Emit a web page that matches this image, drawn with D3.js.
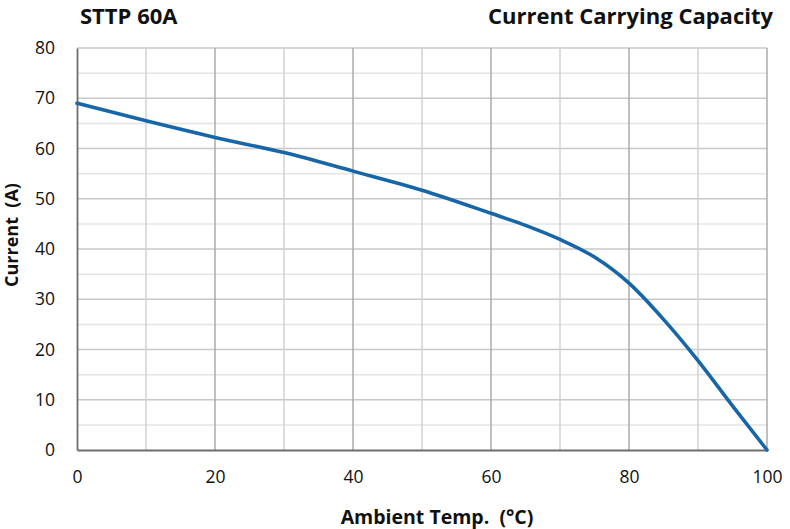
<!DOCTYPE html>
<html>
<head>
<meta charset="utf-8">
<script src="https://cdn.jsdelivr.net/npm/d3@7"></script>
<style>
  body { margin: 0; background: #fff; }
  text { font-family: "Open Sans", "Noto Sans", sans-serif; }
</style>
</head>
<body>
<div id="chart"></div>
<script>
// Ablesewerte aus dem Diagramm
const temps = [0, 10, 20, 30, 40, 50, 60, 65, 70, 75, 80, 85, 90, 95, 100];
const currents = [69, 65.5, 62.2, 59.2, 55.5, 51.7, 47.1, 44.7, 41.9, 38.4, 33.2, 26, 17.8, 8.8, 0];
const xTicks = [0, 20, 40, 60, 80, 100];
const yTicks = [0, 10, 20, 30, 40, 50, 60, 70, 80];

const width = 790, height = 529;
const margin = { left: 77, right: 23, top: 48, bottom: 79 };
const innerW = width - margin.left - margin.right;
const innerH = height - margin.top - margin.bottom;

const svg = d3.select("#chart").append("svg")
    .attr("width", width)
    .attr("height", height);

const x = d3.scaleLinear().domain([0, 100]).range([margin.left, margin.left + innerW]);
const y = d3.scaleLinear().domain([0, 80]).range([margin.top + innerH, margin.top]);

// Gitter
const g = svg.append("g");
g.selectAll(".hminor").data(d3.range(5, 80, 10)).join("line")
    .attr("x1", x(0)).attr("x2", x(100))
    .attr("y1", d => y(d)).attr("y2", d => y(d))
    .attr("stroke", "#e4e4e4").attr("stroke-width", 1.5);
g.selectAll(".hmajor").data(yTicks.slice(1)).join("line")
    .attr("x1", x(0)).attr("x2", x(100))
    .attr("y1", d => y(d)).attr("y2", d => y(d))
    .attr("stroke", "#c8c8c8").attr("stroke-width", 1.5);
g.selectAll(".vminor").data([10, 30, 50, 70, 90]).join("line")
    .attr("y1", y(0)).attr("y2", y(80))
    .attr("x1", d => x(d)).attr("x2", d => x(d))
    .attr("stroke", "#d2d2d2").attr("stroke-width", 1.5);
g.selectAll(".vmajor").data([20, 40, 60, 80, 100]).join("line")
    .attr("y1", y(0)).attr("y2", y(80))
    .attr("x1", d => x(d)).attr("x2", d => x(d))
    .attr("stroke", "#ababab").attr("stroke-width", 1.5);

// Achsen
const xAxis = svg.append("g")
    .attr("transform", `translate(0, ${y(0)})`)
    .call(d3.axisBottom(x).tickValues(xTicks).tickSize(0).tickPadding(21));
const yAxis = svg.append("g")
    .attr("transform", `translate(${x(0)}, 0)`)
    .call(d3.axisLeft(y).tickValues(yTicks).tickSize(0).tickPadding(22));
[xAxis, yAxis].forEach(a => {
    a.select(".domain").attr("stroke", "#6e6e6e").attr("stroke-width", 1.8);
    a.selectAll("text").attr("font-size", 17.5).attr("fill", "#111")
        .style("font-family", "'Open Sans', 'Noto Sans', sans-serif");
});

// Kurve
const line = d3.line()
    .x((d, i) => x(temps[i]))
    .y(d => y(d))
    .curve(d3.curveMonotoneX);
svg.append("path")
    .datum(currents)
    .attr("d", line)
    .attr("fill", "none")
    .attr("stroke", "#1766a8")
    .attr("stroke-width", 3.6)
    .attr("stroke-linecap", "round");

// Titel
svg.append("text").text("STTP 60A")
    .attr("x", 80).attr("y", 24)
    .attr("font-size", 22).attr("font-weight", "bold").attr("fill", "#111");
svg.append("text").text("Current Carrying Capacity")
    .attr("x", 773).attr("y", 24).attr("text-anchor", "end")
    .attr("font-size", 22).attr("font-weight", "bold").attr("fill", "#111");
svg.append("text").text("Ambient Temp.  (°C)")
    .attr("x", 437).attr("y", 524).attr("text-anchor", "middle")
    .attr("xml:space", "preserve")
    .attr("font-size", 19.5).attr("font-weight", "bold").attr("fill", "#111");
svg.append("text").text("Current  (A)")
    .attr("transform", "translate(18, 235) rotate(-90)")
    .attr("text-anchor", "middle")
    .attr("xml:space", "preserve")
    .attr("font-size", 18).attr("font-weight", "bold").attr("fill", "#111");
</script>
</body>
</html>
